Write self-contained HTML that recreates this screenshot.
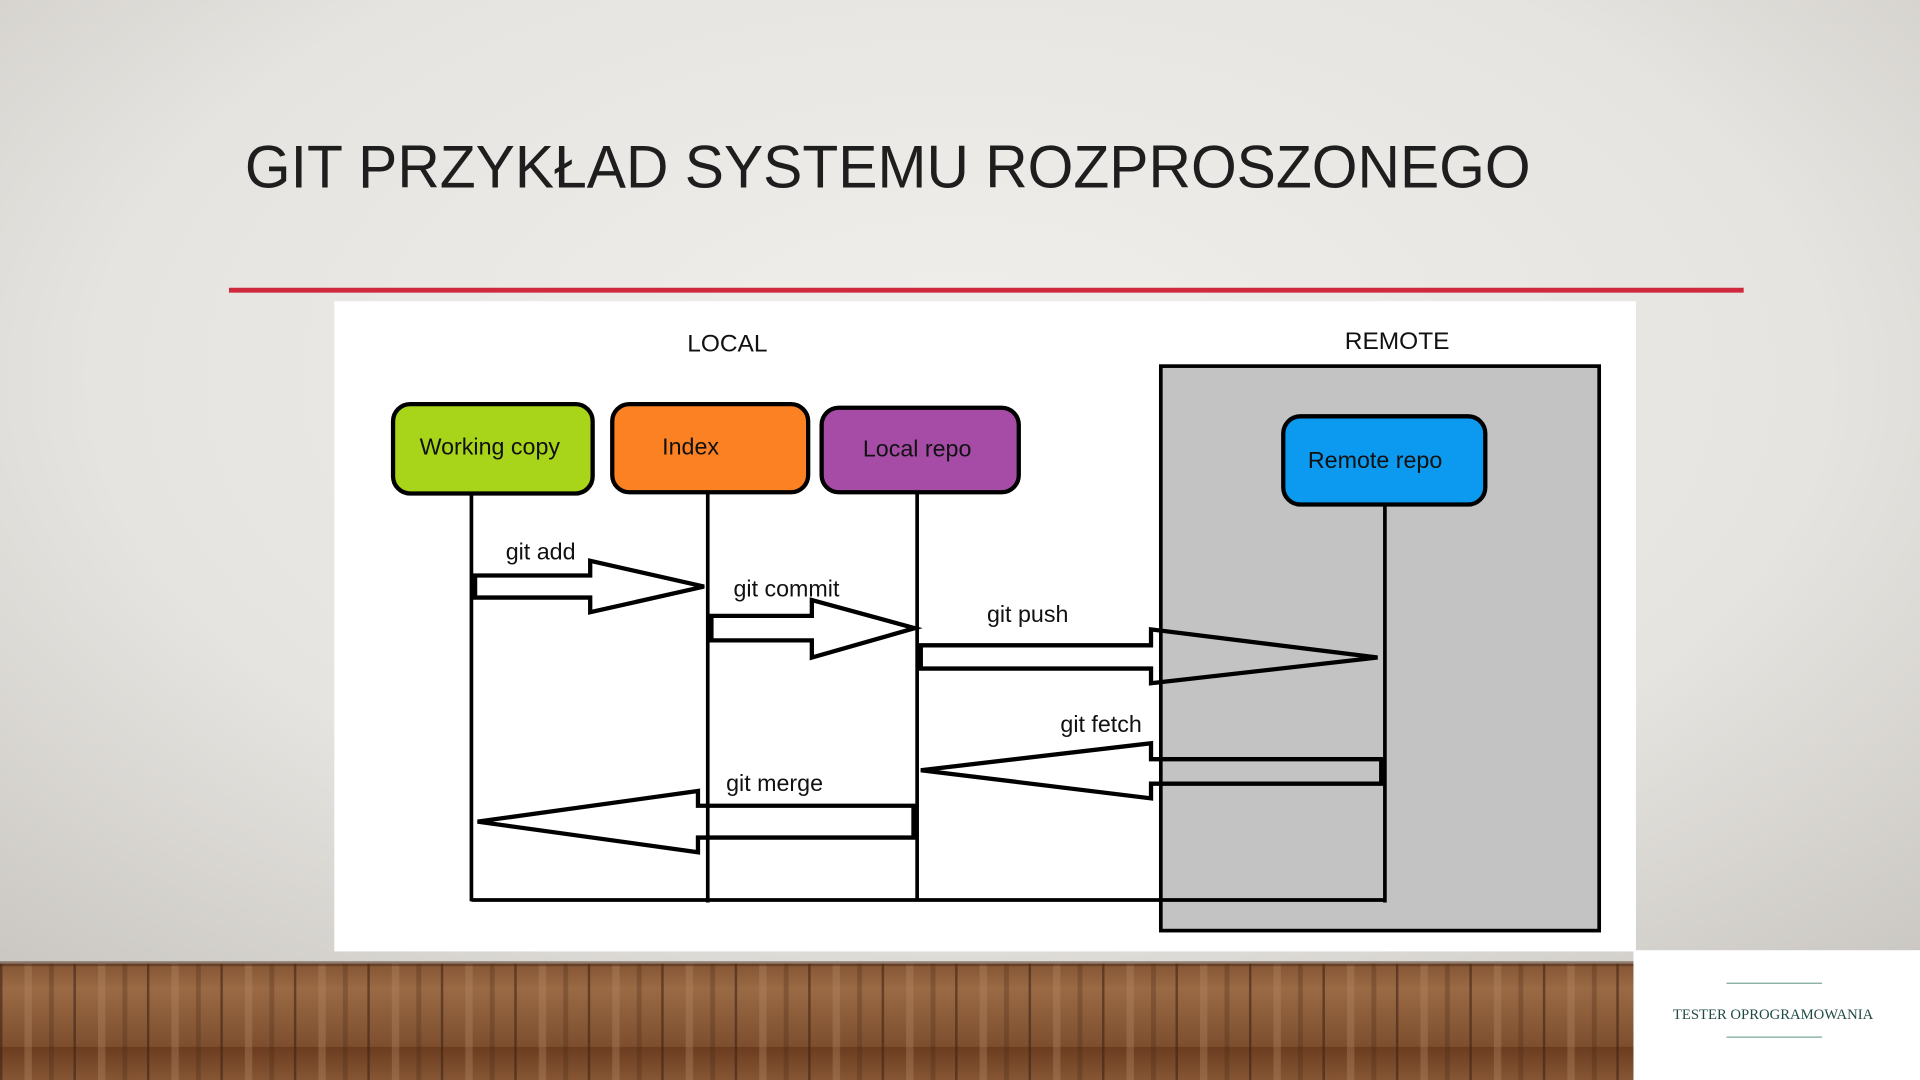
<!DOCTYPE html>
<html><head><meta charset="utf-8"><style>
html,body{margin:0;padding:0;width:1920px;height:1080px;overflow:hidden;background:#e8e6e3}
svg{display:block}
text{font-family:"Liberation Sans","DejaVu Sans",sans-serif}
</style></head><body>
<svg width="1920" height="1080" viewBox="0 0 1568 882" preserveAspectRatio="none" xmlns="http://www.w3.org/2000/svg">
<defs>
<radialGradient id="bg" cx="0.5" cy="0.35" r="0.75">
<stop offset="0" stop-color="#f1efec"/><stop offset="0.6" stop-color="#e6e4e0"/><stop offset="1" stop-color="#c9c6c1"/>
</radialGradient>
<linearGradient id="wood" x1="0" y1="0" x2="0" y2="1">
<stop offset="0" stop-color="#6b3c1f"/><stop offset="0.5" stop-color="#9a6a45"/><stop offset="1" stop-color="#7d4e2e"/>
</linearGradient>
<pattern id="planks" width="60" height="95" patternUnits="userSpaceOnUse">
<rect width="60" height="95" fill="url(#wood)"/>
<rect x="0" y="0" width="2" height="95" fill="#3e2312" opacity="0.6"/>
<rect x="20" y="0" width="6" height="95" fill="#b48a63" opacity="0.35"/>
<rect x="40" y="0" width="4" height="95" fill="#4a2a16" opacity="0.3"/>
</pattern>
</defs>
<rect width="1568" height="882" fill="url(#bg)"/>
<rect x="0" y="787" width="1568" height="95" fill="url(#planks)"/>
<rect x="0" y="785" width="1568" height="4" fill="#4a2a16" opacity="0.5"/>
<text x="200" y="153" font-size="49" fill="#1e1e1e" textLength="1050" lengthAdjust="spacingAndGlyphs">GIT PRZYKŁAD SYSTEMU ROZPROSZONEGO</text>
<rect x="187" y="235" width="1237" height="4" fill="#d0283c"/>
<rect x="273" y="246" width="1063" height="531" fill="#ffffff"/>
<text x="594" y="287" font-size="20" text-anchor="middle" fill="#111">LOCAL</text>
<text x="1141" y="285" font-size="20" text-anchor="middle" fill="#111">REMOTE</text>
<rect x="948" y="299" width="358" height="461" fill="#c3c3c3" stroke="#000" stroke-width="3"/>
<g stroke="#000" stroke-width="3" fill="none">
<line x1="385" y1="403" x2="385" y2="736"/>
<line x1="578" y1="402" x2="578" y2="737"/>
<line x1="749" y1="402" x2="749" y2="736"/>
<line x1="1131" y1="412" x2="1131" y2="737"/>
<line x1="385" y1="735" x2="1131" y2="735"/>
</g>
<g stroke="#000" stroke-width="3.5">
<rect x="321" y="330" width="163" height="73" rx="14" fill="#a8d41a"/>
<rect x="500" y="330" width="160" height="72" rx="14" fill="#fb8122"/>
<rect x="671" y="333" width="161" height="69" rx="14" fill="#a64ca6"/>
<rect x="1048" y="340" width="165" height="72" rx="14" fill="#0b9af0"/>
</g>
<g font-size="19" fill="#111" text-anchor="middle">
<text x="400" y="371">Working copy</text>
<text x="564" y="371">Index</text>
<text x="749" y="373">Local repo</text>
<text x="1123" y="382">Remote repo</text>
</g>
<g stroke="#000" stroke-width="3.5" fill="none" stroke-linejoin="miter">
<polygon points="388,470 482,470 482,458 575,479 482,500 482,488 388,488"/>
<polygon points="581,503 663,503 663,490 747,513 663,537 663,523 581,523"/>
<polygon points="752,527 940,527 940,514 1125,537 940,558 940,546 752,546"/>
<polygon points="1128,620 940,620 940,607 752,629 940,652 940,640 1128,640"/>
<polygon points="746,658 570,658 570,646 390,671 570,696 570,684 746,684"/>
</g>
<g font-size="19" fill="#111">
<text x="413" y="457">git add</text>
<text x="599" y="487">git commit</text>
<text x="806" y="508">git push</text>
<text x="866" y="598">git fetch</text>
<text x="593" y="646">git merge</text>
</g>
<rect x="1334" y="776" width="234" height="106" fill="#ffffff"/>
<line x1="1410" y1="803" x2="1488" y2="803" stroke="#7aa89a" stroke-width="1"/>
<line x1="1410" y1="847" x2="1488" y2="847" stroke="#7aa89a" stroke-width="1"/>
<text x="1448" y="832" font-size="12" text-anchor="middle" fill="#1f4a44" style="font-family:'Liberation Serif',serif">TESTER OPROGRAMOWANIA</text>
</svg>
</body></html>
